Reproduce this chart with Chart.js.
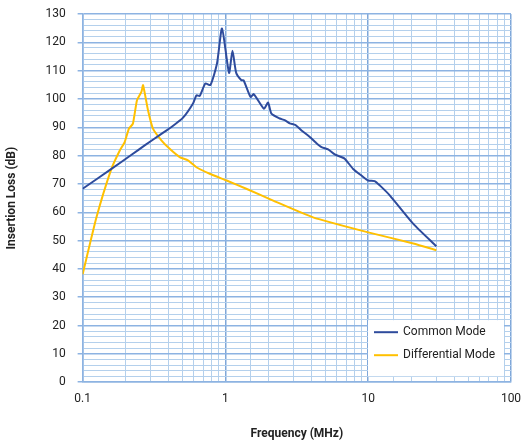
<!DOCTYPE html>
<html>
<head>
<meta charset="utf-8">
<script src="https://cdn.jsdelivr.net/npm/chart.js@4.4.1/dist/chart.umd.min.js"></script>
<style>
  html, body { margin: 0; padding: 0; background: #fff; }
  #wrap { width: 521px; height: 445px; }
</style>
</head>
<body>
<div id="wrap"><canvas id="myChart" width="521" height="445"></canvas></div>
<script>
// Common Mode (MHz / dB)
var cmFreq = [0.1, 0.16, 0.22, 0.272, 0.35, 0.419, 0.505, 0.593, 0.627, 0.661, 0.724, 0.785, 0.873, 0.947,
              1.06, 1.12, 1.19, 1.295, 1.34, 1.5, 1.58, 1.86, 1.99, 2.1, 2.4, 2.6, 2.82, 3.1, 3.41, 3.9,
              4.3, 4.71, 5.24, 5.83, 6.4, 6.85, 7.84, 9, 10, 11.1, 12.1, 14.2, 20.7, 30]
var cmLoss = [68.3, 75.4, 80.3, 83.6, 87.4, 90.1, 93.4, 98.4, 101.3, 101.1, 105.5, 104.9, 112.5, 124.9,
              109.2, 117.0, 109.2, 106.6, 106.6, 100.7, 101.7, 96.6, 98.7, 94.8, 93.1, 92.5, 91.4, 90.8, 88.9, 86.6,
              84.6, 83.0, 82.2, 80.4, 79.6, 78.9, 75.3, 72.9, 71.2, 71.0, 69.4, 65.9, 55.9, 48.0]

// Differential Mode
var dmFreq = [0.1, 0.125, 0.159, 0.182, 0.197, 0.211, 0.225, 0.24, 0.258, 0.265, 0.287, 0.311, 0.356,
              0.407, 0.478, 0.547, 0.626, 0.776, 1.02, 1.4, 2.16, 4.11, 10, 20.7, 30]
var dmLoss = [38.1, 58.2, 75.3, 81.8, 84.8, 89.5, 91.3, 99.5, 102.5, 104.9, 96.0, 89.5, 85.4,
              82.4, 79.5, 78.3, 75.9, 73.6, 71.2, 68.3, 64.1, 58.2, 52.9, 49.0, 46.6]

var seriesNames = ["Common Mode", "Differential Mode"]
var seriesColors = ["#2E4B9C", "#FFC000"]
var xTickLabels = [0.1, 1, 10, 100]

function toPoints(xs, ys){
    var pts = []
    for (i = 0; i < xs.length; i++){
        pts.push({x: xs[i], y: ys[i]})
    }
    return pts
}

function isDecade(v){
    for (var k = 0; k < xTickLabels.length; k++){
        if (Math.abs(v - xTickLabels[k]) < 1e-9) return true
    }
    return false
}

var majorCol = "#8DB3E2"
var minorCol = "#B4D0EC"

// legend drawn inside the plot area, bottom right
var boxLegend = {
    id: 'boxLegend',
    afterDraw: function(chart){
        var c = chart.ctx, a = chart.chartArea
        var x0 = a.right - 143, y0 = a.bottom - 62
        c.save()
        c.fillStyle = "#fff"
        c.fillRect(x0, y0, 136, 56)
        c.font = "12px Roboto"
        c.textBaseline = "middle"
        for (var k = 0; k < seriesNames.length; k++){
            var yy = y0 + 12 + k * 23
            c.strokeStyle = seriesColors[k]
            c.lineWidth = 2
            c.beginPath()
            c.moveTo(x0 + 6, yy)
            c.lineTo(x0 + 30, yy)
            c.stroke()
            c.fillStyle = "#222"
            c.fillText(seriesNames[k], x0 + 35, yy)
        }
        c.restore()
    }
}

var ctx = document.getElementById('myChart')
var myChart = new Chart(ctx, {
    type: 'line',
    data: {
        datasets: [{
            label: seriesNames[0],
            data: toPoints(cmFreq, cmLoss),
            borderColor: seriesColors[0],
            backgroundColor: seriesColors[0],
            borderWidth: 2,
            pointRadius: 0,
            tension: 0.2
        }, {
            label: seriesNames[1],
            data: toPoints(dmFreq, dmLoss),
            borderColor: seriesColors[1],
            backgroundColor: seriesColors[1],
            borderWidth: 2,
            pointRadius: 0,
            tension: 0.15
        }]
    },
    options: {
        responsive: false,
        animation: false,
        plugins: {
            legend: { display: false },
            tooltip: { enabled: false }
        },
        layout: {
            padding: { left: 5, right: 10, top: 14, bottom: 4 }
        },
        scales: {
            x: {
                type: 'logarithmic',
                min: 0.1,
                max: 100,
                afterFit: function(s){ s.paddingRight = 0; s.paddingLeft = 0 },
                border: { color: majorCol, width: 1.5 },
                grid: {
                    drawTicks: false,
                    color: function(c){ return isDecade(c.tick.value) ? "#7FA7D9" : minorCol },
                    lineWidth: function(c){ return isDecade(c.tick.value) ? 1.5 : 1 }
                },
                ticks: {
                    autoSkip: false,
                    maxRotation: 0,
                    padding: 10,
                    color: "#222",
                    font: { family: "Roboto", size: 12 },
                    callback: function(v){ return isDecade(v) ? String(v) : "" }
                },
                title: {
                    display: true,
                    text: "Frequency (MHz)",
                    color: "#222",
                    font: { family: "Roboto", size: 12, weight: "bold" },
                    padding: { top: 10, bottom: 0 }
                }
            },
            y: {
                min: 0,
                max: 130,
                afterFit: function(s){ s.paddingTop = 0; s.paddingBottom = 0 },
                border: { color: majorCol, width: 1.5 },
                grid: {
                    tickLength: 5,
                    color: function(c){ return c.tick.value % 10 === 0 ? majorCol : minorCol },
                    tickColor: function(c){ return c.tick.value % 10 === 0 ? majorCol : "rgba(0,0,0,0)" },
                    lineWidth: function(c){ return c.tick.value % 10 === 0 ? 1.5 : 1 }
                },
                ticks: {
                    stepSize: 2,
                    autoSkip: false,
                    padding: 12,
                    color: "#222",
                    font: { family: "Roboto", size: 12 },
                    callback: function(v){ return v % 10 === 0 ? String(v) : "" }
                },
                title: {
                    display: true,
                    text: "Insertion Loss (dB)",
                    color: "#222",
                    font: { family: "Roboto", size: 12, weight: "bold" },
                    padding: { top: 0, bottom: 14 }
                }
            }
        }
    },
    plugins: [boxLegend]
});
</script>
</body>
</html>
